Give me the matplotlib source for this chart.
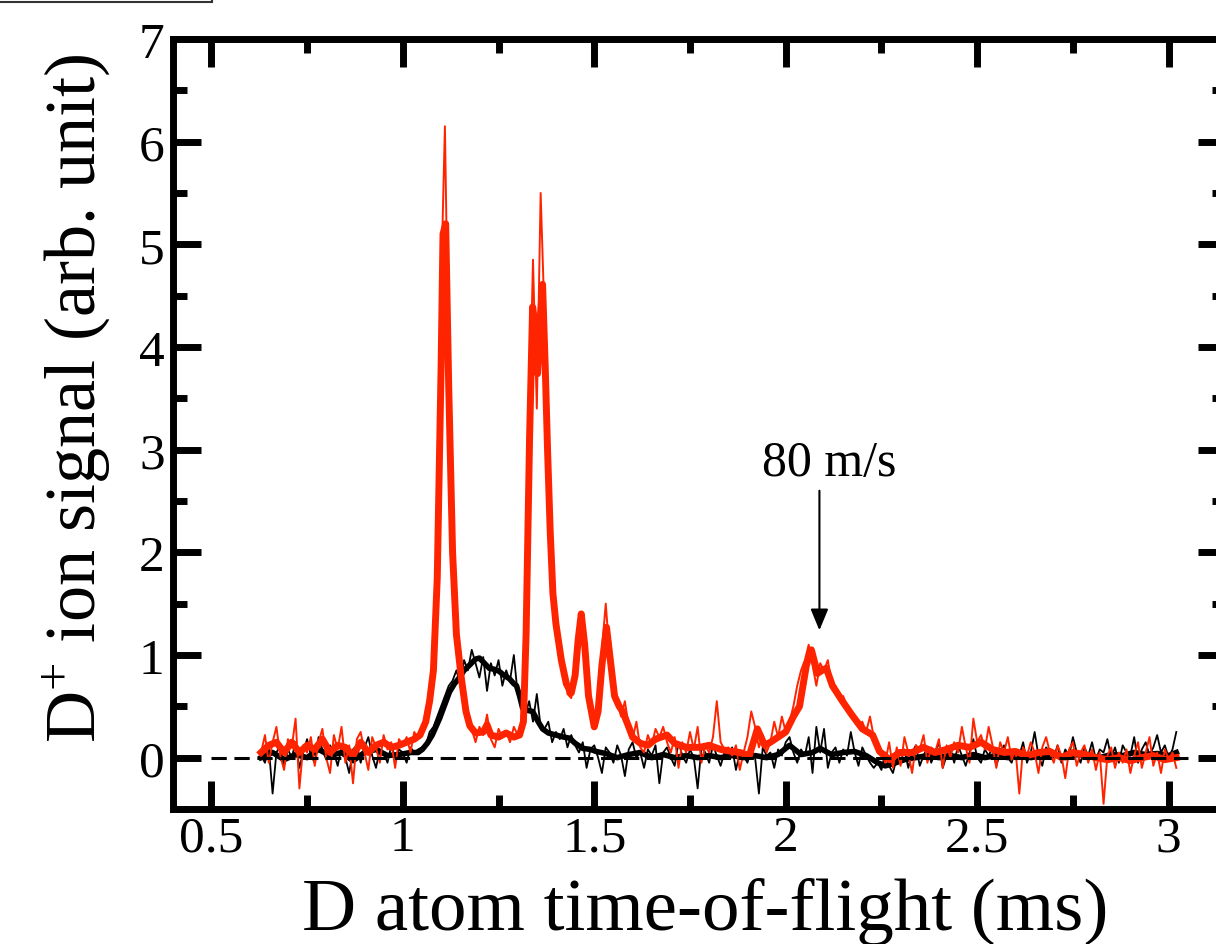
"""
D atom time-of-flight spectra (D+ ion signal), red and black traces.
Writes out.png
"""

import numpy as np
import matplotlib
matplotlib.use("Agg")
import matplotlib.pyplot as plt
from matplotlib.patches import Rectangle
from matplotlib.ticker import MultipleLocator


# ---------------------- data ---------------------- #

# raw traces, sampled every 0.01 ms from 0.63 to 3.02 ms (rows of 10 samples)
raw_t_start = 0.63
raw_t_stop = 3.02

red_raw = [
    0.05, 0.22, -0.05, 0.15, 0.30, 0.02, -0.12, 0.18, 0.10, 0.38,   # 0.63
    -0.30, 0.12, 0.05, 0.20, -0.08, 0.15, 0.28, 0.00, -0.15, 0.22,  # 0.73
    0.08, 0.30, -0.05, 0.12, -0.25, 0.18, 0.25, 0.05, -0.12, 0.20,  # 0.83
    0.10, -0.05, 0.22, 0.08, 0.15, -0.10, 0.18, 0.12, 0.20, 0.05,   # 0.93
    0.25, 0.18, 0.25, 0.45, 0.62, 0.95, 1.85, 4.60, 6.15, 3.70,     # 1.03
    2.20, 1.35, 0.85, 0.55, 0.35, 0.28, 0.15, 0.30, 0.22, 0.42,     # 1.13
    0.18, 0.10, 0.28, 0.20, 0.25, 0.15, 0.30, 0.22, 0.35, 1.20,     # 1.23
    3.20, 4.85, 3.40, 5.50, 4.30, 2.60, 1.50, 1.25, 1.00, 0.85,     # 1.33
    0.62, 0.58, 0.90, 1.30, 1.35, 0.85, 0.45, 0.30, 0.55, 1.05,     # 1.43
    1.50, 1.00, 0.62, 0.55, 0.40, 0.55, 0.30, 0.18, 0.35, 0.10,     # 1.53
    0.05, 0.22, 0.12, 0.28, 0.20, 0.30, 0.15, 0.05, 0.20, -0.10,    # 1.63
    0.15, 0.05, 0.25, 0.08, 0.30, -0.05, 0.12, 0.05, 0.20, 0.55,    # 1.73
    0.15, 0.08, 0.10, 0.02, 0.12, -0.12, 0.05, 0.20, 0.45, 0.30,    # 1.83
    0.10, 0.22, 0.05, 0.15, 0.35, 0.20, 0.40, 0.25, 0.35, 0.50,     # 1.93
    0.70, 0.85, 0.95, 1.10, 0.90, 0.70, 0.92, 0.85, 0.95, 0.72,     # 2.03
    0.70, 0.58, 0.60, 0.50, 0.45, 0.38, 0.30, 0.35, 0.25, 0.40,     # 2.13
    0.20, 0.10, 0.05, -0.05, 0.15, -0.10, 0.10, -0.08, 0.20, 0.05,  # 2.23
    -0.15, 0.12, 0.08, 0.22, -0.05, 0.10, 0.05, 0.18, -0.10, 0.12,  # 2.33
    0.00, 0.15, 0.05, 0.30, 0.10, -0.05, 0.38, 0.15, 0.22, 0.08,    # 2.43
    0.30, 0.12, -0.10, 0.15, 0.05, 0.20, -0.02, 0.08, -0.35, 0.10,  # 2.53
    0.02, 0.15, 0.05, -0.15, 0.10, 0.20, 0.05, -0.05, 0.12, 0.02,   # 2.63
    -0.20, 0.08, 0.15, -0.08, 0.05, 0.12, -0.05, 0.08, -0.12, 0.05, # 2.73
    -0.45, 0.02, 0.10, -0.10, 0.05, -0.05, 0.08, -0.15, 0.02, 0.15, # 2.83
    -0.10, 0.05, 0.20, -0.08, 0.05, -0.15, 0.08, -0.02, 0.05, -0.10, # 2.93
]

black_raw = [
    0.02, -0.05, 0.10, -0.35, 0.05, 0.12, -0.08, 0.08, 0.00, 0.15,  # 0.63
    -0.10, 0.05, 0.18, 0.02, -0.05, 0.20, 0.08, -0.02, 0.12, 0.05,  # 0.73
    -0.08, 0.10, 0.00, -0.15, 0.08, 0.12, -0.05, 0.10, 0.20, 0.02,  # 0.83
    -0.10, 0.08, 0.05, -0.05, 0.12, 0.00, 0.08, 0.05, -0.05, 0.10,  # 0.93
    0.05, 0.08, 0.10, 0.12, 0.25, 0.30, 0.40, 0.50, 0.60, 0.70,     # 1.03
    0.75, 0.85, 0.72, 0.95, 0.85, 1.05, 0.92, 0.78, 0.98, 0.65,     # 1.13
    0.92, 0.80, 0.95, 0.70, 0.85, 0.75, 1.00, 0.62, 0.50, 0.42,     # 1.23
    0.55, 0.35, 0.62, 0.30, 0.28, 0.35, 0.15, 0.25, 0.18, 0.28,     # 1.33
    0.10, 0.22, 0.12, 0.05, 0.15, -0.10, 0.08, 0.12, 0.00, -0.15,   # 1.43
    0.10, 0.05, -0.05, 0.12, 0.02, -0.18, 0.08, 0.15, 0.00, 0.05,   # 1.53
    -0.10, 0.08, 0.02, 0.12, -0.25, 0.05, 0.10, 0.00, -0.08, 0.15,  # 1.63
    0.02, -0.05, 0.08, 0.00, -0.30, 0.10, 0.05, -0.05, 0.12, 0.02,  # 1.73
    -0.08, 0.05, 0.00, 0.10, -0.12, 0.05, 0.02, -0.05, 0.08, 0.00,  # 1.83
    -0.35, 0.10, 0.02, 0.05, -0.10, 0.08, 0.02, 0.15, 0.20, 0.05,   # 1.93
    -0.05, 0.08, 0.02, 0.20, -0.15, 0.30, 0.05, 0.28, -0.10, 0.05,  # 2.03
    0.10, -0.05, 0.08, 0.02, 0.25, 0.05, -0.08, 0.10, 0.02, -0.05,  # 2.13
    -0.10, -0.05, -0.12, 0.05, -0.08, -0.15, 0.00, -0.05, 0.08, -0.10, # 2.23
    0.05, 0.12, -0.08, 0.02, 0.10, -0.05, 0.05, 0.15, -0.10, 0.02,  # 2.33
    0.08, -0.05, 0.12, 0.02, -0.08, 0.05, 0.18, 0.00, -0.05, 0.08,  # 2.43
    0.02, 0.10, -0.08, 0.05, 0.12, 0.00, -0.05, 0.08, 0.02, 0.15,   # 2.53
    -0.05, 0.05, 0.25, 0.02, -0.08, 0.10, 0.05, 0.00, 0.12, -0.05,  # 2.63
    0.08, 0.02, 0.20, 0.05, -0.05, 0.10, 0.02, 0.15, -0.02, 0.08,   # 2.73
    0.05, 0.18, 0.00, 0.10, -0.05, 0.12, 0.05, 0.02, 0.20, -0.05,   # 2.83
    0.08, 0.15, 0.02, 0.10, 0.22, 0.05, 0.12, 0.00, 0.08, 0.25,     # 2.93
]

red_smooth_t = [
    0.63, 0.65, 0.67, 0.69, 0.71, 0.73, 0.75, 0.77, 0.79, 0.81, 0.83, 0.85,
    0.87, 0.89, 0.91, 0.93, 0.95, 0.97, 0.99, 1.01, 1.03, 1.045, 1.06, 1.07,
    1.08, 1.09, 1.10, 1.105, 1.112, 1.12, 1.13, 1.14, 1.153, 1.165, 1.175,
    1.19, 1.21, 1.22, 1.23, 1.25, 1.27, 1.29, 1.305, 1.315, 1.322, 1.331,
    1.339, 1.346, 1.352, 1.358, 1.365, 1.372, 1.378, 1.385, 1.392, 1.40,
    1.414, 1.427, 1.44, 1.45, 1.458, 1.466, 1.475, 1.485, 1.50, 1.51, 1.52,
    1.532, 1.542, 1.553, 1.565, 1.574, 1.59, 1.60, 1.62, 1.64, 1.66, 1.69,
    1.71, 1.74, 1.775, 1.80, 1.83, 1.86, 1.88, 1.905, 1.926, 1.945, 1.96,
    1.98, 2.00, 2.02, 2.036, 2.054, 2.067, 2.083, 2.095, 2.106, 2.122, 2.148,
    2.174, 2.20, 2.227, 2.245, 2.271, 2.297, 2.33, 2.36, 2.39, 2.42, 2.45,
    2.48, 2.51, 2.54, 2.57, 2.60, 2.63, 2.66, 2.69, 2.72, 2.75, 2.78, 2.81,
    2.84, 2.87, 2.90, 2.93, 2.96, 2.99, 3.02,
]
red_smooth = [
    0.05, 0.12, 0.15, 0.05, 0.15, 0.05, 0.12, 0.08, 0.18, 0.05, 0.12, 0.10,
    0.02, 0.15, 0.05, 0.12, 0.15, 0.10, 0.12, 0.15, 0.18, 0.22, 0.35, 0.55,
    0.85, 1.75, 3.80, 5.10, 5.20, 3.60, 2.00, 1.20, 0.77, 0.45, 0.31,
    0.24, 0.25, 0.32, 0.22, 0.20, 0.24, 0.20, 0.22, 0.35, 1.20, 3.10,
    4.39, 4.20, 3.74, 4.20, 4.61, 3.80, 3.00, 2.20, 1.60, 1.30,
    0.95, 0.72, 0.63, 0.80, 1.15, 1.40, 1.10, 0.60, 0.30, 0.45, 0.90,
    1.27, 0.95, 0.60, 0.50, 0.45, 0.30, 0.20, 0.14, 0.12, 0.18, 0.22,
    0.14, 0.10, 0.10, 0.12, 0.08, 0.06, 0.05, 0.02, 0.28, 0.12, 0.15,
    0.20, 0.25, 0.40, 0.50, 0.90, 1.05, 0.82, 0.85, 0.87, 0.70, 0.55,
    0.41, 0.28, 0.22, 0.06, -0.02, 0.05, 0.05, 0.10, 0.05, 0.08, 0.12,
    0.10, 0.15, 0.08, 0.05, 0.06, 0.02, 0.05, 0.06, 0.00, 0.05, 0.03, 0.00,
    -0.02, 0.00, -0.03, 0.00, 0.02, -0.02, 0.00,
]

black_smooth_t = [
    0.63, 0.66, 0.69, 0.72, 0.75, 0.78, 0.81, 0.84, 0.87, 0.90, 0.93, 0.96,
    0.99, 1.02, 1.04, 1.051, 1.064, 1.077, 1.096, 1.11, 1.122, 1.135, 1.148,
    1.16, 1.174, 1.19, 1.20, 1.213, 1.226, 1.24, 1.252, 1.265, 1.278, 1.29,
    1.297, 1.305, 1.313, 1.326, 1.339, 1.352, 1.365, 1.38, 1.40, 1.42, 1.435,
    1.45, 1.47, 1.49, 1.505, 1.53, 1.56, 1.59, 1.62, 1.65, 1.68, 1.71, 1.74,
    1.77, 1.80, 1.83, 1.86, 1.89, 1.92, 1.95, 1.98, 2.01, 2.04, 2.07, 2.09,
    2.12, 2.15, 2.18, 2.21, 2.24, 2.26, 2.28, 2.31, 2.34, 2.37, 2.40, 2.43,
    2.46, 2.49, 2.52, 2.55, 2.58, 2.61, 2.64, 2.67, 2.70, 2.73, 2.76, 2.79,
    2.82, 2.85, 2.88, 2.91, 2.94, 2.97, 3.00, 3.02,
]
black_smooth = [
    0.00, 0.05, -0.02, 0.03, 0.00, 0.08, 0.02, 0.05, -0.03, 0.05, 0.08, 0.02,
    0.03, 0.05, 0.05, 0.08, 0.14, 0.22, 0.38, 0.52, 0.64, 0.72, 0.78,
    0.85, 0.90, 0.96, 0.97, 0.92, 0.87, 0.86, 0.84, 0.80, 0.77, 0.72,
    0.70, 0.60, 0.48, 0.46, 0.45, 0.36, 0.28, 0.24, 0.22, 0.20, 0.19,
    0.14, 0.09, 0.08, 0.06, 0.04, 0.00, 0.03, 0.05, 0.00, 0.03, 0.00, 0.02,
    0.00, 0.02, 0.00, 0.02, 0.00, 0.02, 0.00, 0.03, 0.12, 0.03, 0.05, 0.09,
    0.03, 0.05, 0.06, 0.02, -0.05, -0.08, -0.06, -0.02, 0.00, 0.02, 0.00, 0.02,
    0.00, 0.03, 0.00, 0.02, 0.00, 0.03, 0.00, 0.02, 0.04, 0.00, 0.03, 0.02,
    0.00, 0.03, 0.02, 0.05, 0.03, 0.04, 0.02, 0.05,
]

# dashed zero baseline, and the "80 m/s" marker
zero_line_t = [0.5, 3.05]
marker_label = "80 m/s"
marker_t = 2.088
marker_tip = 1.24
marker_tail = 2.60
marker_text_pos = (2.114, 2.87)

RED = "#ff2400"
SERIF = "Liberation Serif"


# ---------------------- plot ---------------------- #

def main():
    plt.rcParams["font.family"] = SERIF
    plt.rcParams["mathtext.fontset"] = "custom"
    plt.rcParams["mathtext.rm"] = SERIF
    plt.rcParams["mathtext.default"] = "regular"

    fig = plt.figure(figsize=(12.16, 9.45), dpi=100)
    ax = fig.add_axes([0.1423, 0.1429, 0.866, 0.8148])

    t_raw = np.linspace(raw_t_start, raw_t_stop, len(red_raw))

    # black trace first, red on top
    ax.plot(t_raw, black_raw, color="black", lw=1.3, zorder=2)
    ax.plot(black_smooth_t, black_smooth, color="black", lw=4.0,
            solid_joinstyle="round", zorder=3)
    ax.plot(t_raw, red_raw, color=RED, lw=1.4, zorder=4)
    ax.plot(red_smooth_t, red_smooth, color=RED, lw=5.0,
            solid_joinstyle="round", zorder=5)

    ax.plot(zero_line_t, [0, 0], color="black", lw=2.2, dashes=(5, 2.5),
            zorder=6)

    # arrow + label
    ax.annotate("", xy=(marker_t, marker_tip), xytext=(marker_t, marker_tail),
                arrowprops=dict(arrowstyle="-|>,head_length=0.65,head_width=0.27",
                                mutation_scale=20, lw=1.5, color="black",
                                shrinkA=0, shrinkB=0),
                zorder=7)
    ax.text(marker_text_pos[0], marker_text_pos[1], marker_label,
            ha="center", va="center", fontsize=36)

    ax.set_xlim(0.4, 3.15)
    ax.set_ylim(-0.5, 7)

    ax.xaxis.set_major_locator(MultipleLocator(0.5))
    ax.xaxis.set_minor_locator(MultipleLocator(0.25))
    ax.yaxis.set_major_locator(MultipleLocator(1))
    ax.yaxis.set_minor_locator(MultipleLocator(0.5))
    ax.xaxis.set_major_formatter(plt.FuncFormatter(lambda v, p: f"{v:g}"))

    ax.tick_params(which="both", direction="in", top=True, right=True,
                   width=5, color="black")
    ax.tick_params(which="major", length=20, labelsize=37)
    ax.tick_params(which="minor", length=10)
    ax.tick_params(axis="x", which="major", pad=4)
    ax.tick_params(axis="y", which="major", pad=6)

    for side in ax.spines.values():
        side.set_linewidth(5)

    ax.set_xlabel("D atom time-of-flight (ms)", fontsize=54)
    ax.xaxis.set_label_coords(0.505, -0.088)
    ax.set_ylabel(r"D$^{+}$ ion signal (arb. unit)", fontsize=52)
    ax.yaxis.set_label_coords(-0.057, 0.535)

    # partly visible frame at top-left corner
    fig.patches.append(Rectangle((-0.01, 0.9965), 0.184, 0.1,
                                 transform=fig.transFigure, fill=False,
                                 lw=1.5, edgecolor="#333333"))

    fig.savefig("out.png", dpi=100)
    plt.close(fig)


if __name__ == "__main__":
    main()
